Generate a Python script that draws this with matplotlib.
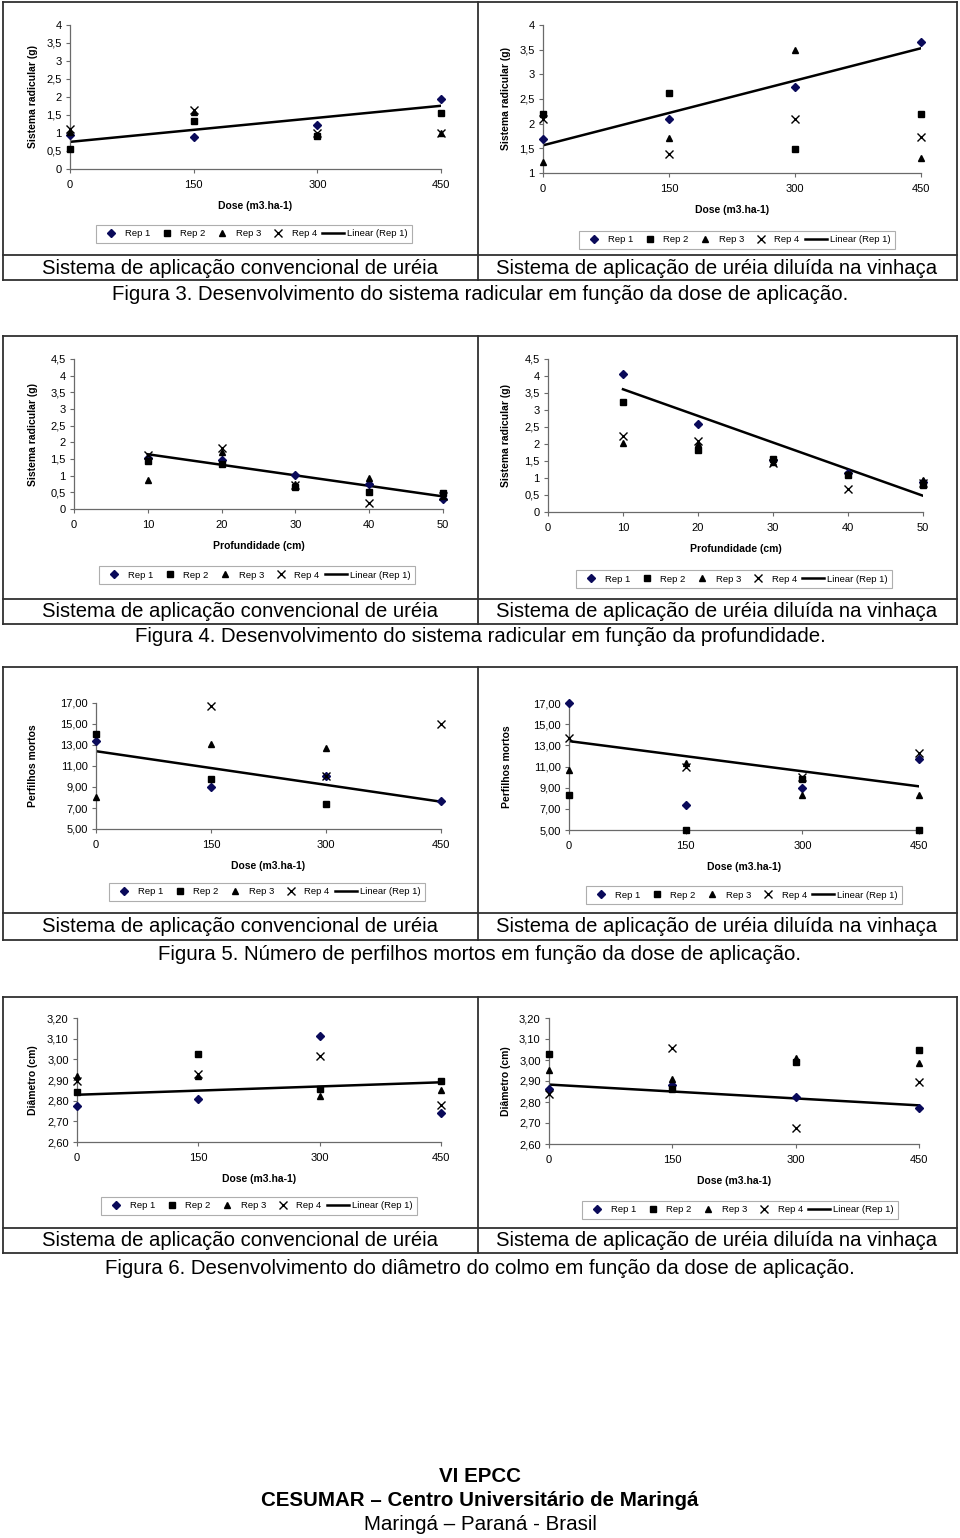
import numpy as np
import matplotlib
matplotlib.use("Agg")
import matplotlib.pyplot as plt
import matplotlib.ticker as ticker
from matplotlib.lines import Line2D

plt.rcParams['font.family'] = ['Liberation Sans', 'DejaVu Sans']

W, H = 960, 1538
nan = np.nan

dose = [0, 150, 300, 450]
prof = [10, 20, 30, 40, 50]
rep_names = ['Rep 1', 'Rep 2', 'Rep 3', 'Rep 4']

# Figura 3 - sistema radicular x dose
rad_conv_rep1 = [0.95, 0.89, 1.23, 1.95]
rad_conv_rep2 = [0.56, 1.32, 0.92, 1.56]
rad_conv_rep3 = [1.02, 1.57, 0.95, 1.00]
rad_conv_rep4 = [1.12, 1.64, 1.00, 1.00]

rad_vin_rep1 = [1.68, 2.10, 2.75, 3.65]
rad_vin_rep2 = [2.20, 2.62, 1.48, 2.20]
rad_vin_rep3 = [1.22, 1.70, 3.50, 1.30]
rad_vin_rep4 = [2.10, 1.38, 2.10, 1.73]

# Figura 4 - sistema radicular x profundidade
prof_conv_rep1 = [1.52, 1.47, 1.01, 0.75, 0.30]
prof_conv_rep2 = [1.43, 1.35, 0.65, 0.52, 0.47]
prof_conv_rep3 = [0.87, 1.72, 0.75, 0.93, 0.40]
prof_conv_rep4 = [1.62, 1.82, 0.72, 0.19, 0.40]

prof_vin_rep1 = [4.07, 2.60, 1.52, 1.15, 0.88]
prof_vin_rep2 = [3.25, 1.81, 1.57, 1.08, 0.80]
prof_vin_rep3 = [2.04, 1.99, 1.48, 1.12, 0.95]
prof_vin_rep4 = [2.23, 2.09, 1.43, 0.68, 0.85]

# Figura 5 - perfilhos mortos x dose
perf_conv_rep1 = [13.35, 9.00, 10.00, 7.67]
perf_conv_rep2 = [14.05, 9.72, 7.42, nan]
perf_conv_rep3 = [8.00, 13.05, 12.70, nan]
perf_conv_rep4 = [nan, 16.68, 10.05, 15.02]

perf_vin_rep1 = [17.00, 7.35, 9.00, 11.70]
perf_vin_rep2 = [8.35, 5.00, 9.78, 5.00]
perf_vin_rep3 = [10.65, 11.35, 8.27, 8.27]
perf_vin_rep4 = [13.72, 10.97, 10.03, 12.30]

# Figura 6 - diametro do colmo x dose
diam_conv_rep1 = [2.775, 2.806, 3.115, 2.739]
diam_conv_rep2 = [2.840, 3.024, 2.855, 2.897]
diam_conv_rep3 = [2.920, 2.920, 2.823, 2.853]
diam_conv_rep4 = [2.895, 2.927, 3.016, 2.779]

diam_vin_rep1 = [2.861, 2.880, 2.823, 2.770]
diam_vin_rep2 = [3.027, 2.864, 2.990, 3.046]
diam_vin_rep3 = [2.953, 2.910, 3.008, 2.988]
diam_vin_rep4 = [2.836, 3.057, 2.677, 2.893]

sub_left = 'Sistema de aplicação convencional de uréia'
sub_right = 'Sistema de aplicação de uréia diluída na vinhaça'
fig_captions = [
    'Figura 3. Desenvolvimento do sistema radicular em função da dose de aplicação.',
    'Figura 4. Desenvolvimento do sistema radicular em função da profundidade.',
    'Figura 5. Número de perfilhos mortos em função da dose de aplicação.',
    'Figura 6. Desenvolvimento do diâmetro do colmo em função da dose de aplicação.',
]

NAVY = '#0a0a5a'
styles = [
    dict(marker='D', color=NAVY, ms=4.4),
    dict(marker='s', color='black', ms=4.4),
    dict(marker='^', color='black', ms=3.8),
    dict(marker='x', color='black', ms=5.5, mew=1.0),
]

fig = plt.figure(figsize=(W / 100, H / 100), dpi=100)


def fx(px):
    return px / W


def fy(py):
    return 1 - py / H


def comma_fmt(decimals):
    def f(v, pos):
        if decimals is None:
            s = '{:g}'.format(round(v, 3))
        else:
            s = '{:.{d}f}'.format(v, d=decimals)
        return s.replace('.', ',')
    return ticker.FuncFormatter(f)


def draw_chart(box, xs, reps, xlim, xticks, ylim, yticks, decimals, xlabel, ylabel,
               ylab_px, xlab_pad, leg_center):
    l, r, t, b = box
    ax = fig.add_axes([fx(l), fy(b), (r - l) / W, (b - t) / H])
    for vals, st, name in zip(reps, styles, rep_names):
        ax.plot(xs, vals, linestyle='none', label=name, clip_on=False,
                marker=st['marker'], color=st['color'], ms=st['ms'],
                mew=st.get('mew', 1.0), zorder=3)
    # linear trend on Rep 1
    k, c = np.polyfit(xs, reps[0], 1)
    xx = np.array([xs[0], xs[-1]])
    ax.plot(xx, k * xx + c, color='black', lw=1.8, label='Linear (Rep 1)', zorder=2)

    ax.set_xlim(*xlim)
    ax.set_ylim(*ylim)
    ax.set_xticks(xticks)
    ax.set_yticks(yticks)
    ax.yaxis.set_major_formatter(comma_fmt(decimals))
    ax.xaxis.set_major_formatter(ticker.FormatStrFormatter('%d'))
    for s in ['top', 'right']:
        ax.spines[s].set_visible(False)
    for s in ['left', 'bottom']:
        ax.spines[s].set_color('#6a6a6a')
        ax.spines[s].set_linewidth(0.9)
    ax.tick_params(axis='both', labelsize=8, length=3, width=0.8,
                   color='#6a6a6a', pad=3)
    ax.tick_params(axis='x', pad=5)
    ax.set_xlabel(xlabel, fontsize=7.5, fontweight='bold', labelpad=xlab_pad)
    ax.set_ylabel(ylabel, fontsize=7.5, fontweight='bold')
    ax.yaxis.set_label_coords((ylab_px - l) / (r - l), 0.5)
    ax.patch.set_alpha(0)

    handles, labels = ax.get_legend_handles_labels()
    leg = fig.legend(handles, labels, loc='center',
                     bbox_to_anchor=(fx(leg_center[0]), fy(leg_center[1])),
                     ncol=5, fontsize=6.8, frameon=True, fancybox=False,
                     edgecolor='#9a9a9a', handlelength=2.3, handletextpad=0.3,
                     columnspacing=0.6, borderpad=0.45)
    leg.get_frame().set_linewidth(0.8)
    return ax


def hline(y, x0=3, x1=957):
    fig.add_artist(Line2D([fx(x0), fx(x1)], [fy(y), fy(y)], color='#303030', lw=1.3))


def vline(x, y0, y1):
    fig.add_artist(Line2D([fx(x), fx(x)], [fy(y0), fy(y1)], color='#303030', lw=1.3))


def block(top, mid, bottom, caption_y, fig_y, caption):
    hline(top)
    hline(mid)
    hline(bottom)
    vline(3, top, bottom)
    vline(957, top, bottom)
    vline(478, top, bottom)
    fig.text(fx(240), fy(caption_y), sub_left, ha='center', va='center', fontsize=14.6)
    fig.text(fx(717), fy(caption_y), sub_right, ha='center', va='center', fontsize=14.6)
    fig.text(0.5, fy(fig_y), caption, ha='center', va='center', fontsize=14.7)


rad_ticks = np.arange(0, 4.01, 0.5)
rad_ticks2 = np.arange(1, 4.01, 0.5)
prof_ticks = np.arange(0, 4.51, 0.5)
perf_ticks = np.arange(5, 17.01, 2)
diam_ticks = np.arange(2.6, 3.201, 0.1)

# Figura 3
block(2, 255, 280, 268, 294, fig_captions[0])
draw_chart((70, 441, 25, 169), dose,
           [rad_conv_rep1, rad_conv_rep2, rad_conv_rep3, rad_conv_rep4],
           (0, 450), dose, (0, 4), rad_ticks, None,
           'Dose (m3.ha-1)', 'Sistema radicular (g)', 38, 8, (254, 234))
draw_chart((543, 921, 25, 173), dose,
           [rad_vin_rep1, rad_vin_rep2, rad_vin_rep3, rad_vin_rep4],
           (0, 450), dose, (1, 4), rad_ticks2, None,
           'Dose (m3.ha-1)', 'Sistema radicular (g)', 511, 8, (737, 240))

# Figura 4
block(336, 599, 624, 611, 637, fig_captions[1])
draw_chart((74, 443, 359, 509), prof,
           [prof_conv_rep1, prof_conv_rep2, prof_conv_rep3, prof_conv_rep4],
           (0, 50), [0, 10, 20, 30, 40, 50], (0, 4.5), prof_ticks, None,
           'Profundidade (cm)', 'Sistema radicular (g)', 38, 8, (257, 575))
draw_chart((548, 923, 359, 512), prof,
           [prof_vin_rep1, prof_vin_rep2, prof_vin_rep3, prof_vin_rep4],
           (0, 50), [0, 10, 20, 30, 40, 50], (0, 4.5), prof_ticks, None,
           'Profundidade (cm)', 'Sistema radicular (g)', 511, 8, (734, 579))

# Figura 5
block(667, 913, 940, 927, 954, fig_captions[2])
draw_chart((96, 441, 703, 829), dose,
           [perf_conv_rep1, perf_conv_rep2, perf_conv_rep3, perf_conv_rep4],
           (0, 450), dose, (5, 17), perf_ticks, 2,
           'Dose (m3.ha-1)', 'Perfilhos mortos', 38, 8, (267, 892))
draw_chart((569, 919, 703, 830), dose,
           [perf_vin_rep1, perf_vin_rep2, perf_vin_rep3, perf_vin_rep4],
           (0, 450), dose, (5, 17), perf_ticks, 2,
           'Dose (m3.ha-1)', 'Perfilhos mortos', 512, 8, (744, 895))

# Figura 6
block(997, 1228, 1253, 1240, 1268, fig_captions[3])
draw_chart((77, 441, 1018, 1142), dose,
           [diam_conv_rep1, diam_conv_rep2, diam_conv_rep3, diam_conv_rep4],
           (0, 450), dose, (2.6, 3.2), diam_ticks, 2,
           'Dose (m3.ha-1)', 'Diâmetro (cm)', 38, 8, (259, 1206))
draw_chart((549, 919, 1018, 1144), dose,
           [diam_vin_rep1, diam_vin_rep2, diam_vin_rep3, diam_vin_rep4],
           (0, 450), dose, (2.6, 3.2), diam_ticks, 2,
           'Dose (m3.ha-1)', 'Diâmetro (cm)', 511, 8, (740, 1210))

# rodape
fig.text(0.5, fy(1476), 'VI EPCC', ha='center', va='center', fontsize=14.8, fontweight='bold')
fig.text(0.5, fy(1500), 'CESUMAR – Centro Universitário de Maringá', ha='center',
         va='center', fontsize=14.8, fontweight='bold')
fig.text(0.5, fy(1524), 'Maringá – Paraná - Brasil', ha='center', va='center', fontsize=14.8)

fig.savefig('out.png', dpi=100)
